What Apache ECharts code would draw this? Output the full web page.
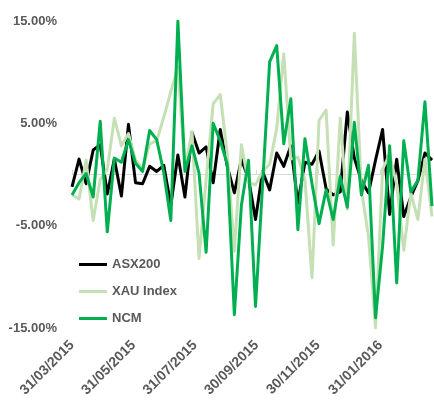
<!DOCTYPE html>
<html>
<head>
<meta charset="utf-8">
<script src="https://cdn.jsdelivr.net/npm/echarts@6/dist/echarts.min.js"></script>
<style>
  html, body { margin: 0; padding: 0; background: #ffffff; }
  #chart { width: 434px; height: 401px; }
</style>
</head>
<body>
<div id="chart"></div>
<script>
// Weekly observation dates
const weeks = [
  '2015-03-31', '2015-04-07', '2015-04-14', '2015-04-21', '2015-04-28',
  '2015-05-05', '2015-05-12', '2015-05-19', '2015-05-26',
  '2015-06-02', '2015-06-09', '2015-06-16', '2015-06-23', '2015-06-30',
  '2015-07-07', '2015-07-14', '2015-07-21', '2015-07-28',
  '2015-08-04', '2015-08-11', '2015-08-18', '2015-08-25',
  '2015-09-01', '2015-09-08', '2015-09-15', '2015-09-22', '2015-09-29',
  '2015-10-06', '2015-10-13', '2015-10-20', '2015-10-27',
  '2015-11-03', '2015-11-10', '2015-11-17', '2015-11-24',
  '2015-12-01', '2015-12-08', '2015-12-15', '2015-12-22', '2015-12-29',
  '2016-01-05', '2016-01-12', '2016-01-19', '2016-01-26',
  '2016-02-02', '2016-02-09', '2016-02-16', '2016-02-23',
  '2016-03-01', '2016-03-08', '2016-03-15', '2016-03-22'
];

// Weekly returns, in percent
const asx200 = [
  -1.2, 1.5, -0.9, 2.4, 2.9, -1.9, 1.5, -2.1, 4.9, -0.8,
  -0.9, 0.8, 0.3, 0.9, -3.0, 1.9, -2.2, 4.1, 2.1, 2.7,
  -0.8, 4.4, 0.8, -1.8, 1.5, -0.4, -4.4, 0.3, -1.5, 2.1,
  0.8, 2.8, -2.8, 1.2, 1.0, 2.3, -1.4, -2.0, -1.7, 6.1,
  1.6, -0.6, -1.8, 1.4, 4.4, -3.9, 1.5, -4.1, -2.2, -0.6,
  2.1, 1.4
];
const xauIndex = [
  -2.0, -2.4, 1.4, -4.5, -0.5, 0.5, 5.5, 2.8, 4.0, 1.4,
  0.5, 3.0, 3.3, 5.6, 8.1, 10.5, 0.5, 4.2, -8.2, -0.5,
  6.9, 7.8, 2.0, -7.5, 2.9, -0.8, -1.0, 0.3, 1.0, 4.5,
  11.8, 1.5, 1.7, -0.5, -10.1, 5.3, 6.3, -6.9, 5.5, -3.4,
  13.8, -1.5, -6.0, -15.0, 0.5, 2.0, -1.0, -7.4, -1.8, -4.4,
  1.5, -4.1
];
const ncm = [
  -2.0, -0.8, 0.1, -2.2, 5.2, -5.6, 1.6, 1.2, 3.4, 1.1,
  0.3, 4.3, 3.4, 0.2, -4.5, 15.0, 0.3, 2.8, 0.1, -7.6,
  5.0, 3.3, 1.0, -13.7, -3.0, 1.4, -12.9, -1.0, 11.0, 12.6,
  3.0, 7.4, -5.4, 3.5, -0.9, -4.8, -1.5, -4.4, -0.2, -3.2,
  5.1, -2.0, 0.9, -14.0, -7.0, 2.8, -10.6, 3.3, -1.7, -0.6,
  7.1, -3.1
];

// Axis tick labels
const xTickDates = ['2015-03-31', '2015-05-31', '2015-07-31', '2015-09-30', '2015-11-30', '2016-01-31'];
const yTickValues = [-15, -5, 5, 15];

const seriesNames = ['ASX200', 'XAU Index', 'NCM'];
const seriesColors = ['#000000', '#c5e0b4', '#00b050'];

function toTime(s) {
  const p = s.split('-').map(Number);
  return new Date(p[0], p[1] - 1, p[2]).getTime();
}
function fmtDate(t) {
  const d = new Date(t);
  const two = n => String(n).padStart(2, '0');
  return two(d.getDate()) + '/' + two(d.getMonth() + 1) + '/' + d.getFullYear();
}

const weekTimes = weeks.map(toTime);
const xTicks = xTickDates.map(toTime);
const xMin = weekTimes[0];
const xMax = weekTimes[weekTimes.length - 1];

const textColor = '#595959';
const fontFamily = '"Liberation Sans", Arial, sans-serif';

function buildSeries(name, values, color) {
  return {
    name: name,
    type: 'line',
    xAxisIndex: 0,
    yAxisIndex: 0,
    data: values.map((v, i) => [weekTimes[i], v]),
    showSymbol: false,
    symbol: 'none',
    lineStyle: { color: color, width: 3, join: 'round' },
    itemStyle: { color: color },
    emphasis: { disabled: true },
    animation: false
  };
}

const chart = echarts.init(document.getElementById('chart'), null, { renderer: 'canvas' });
chart.setOption({
  backgroundColor: '#ffffff',
  animation: false,
  grid: { left: 72, right: 2, top: 21, bottom: 73, containLabel: false },
  legend: {
    orient: 'vertical',
    left: 74,
    top: 253,
    itemWidth: 28,
    itemHeight: 3,
    itemGap: 14,
    icon: 'rect',
    selectedMode: false,
    data: seriesNames,
    textStyle: { color: textColor, fontWeight: 'bold', fontSize: 13, fontFamily: fontFamily }
  },
  xAxis: [
    {
      type: 'value',
      min: xMin,
      max: xMax,
      position: 'bottom',
      axisLine: { show: false, onZero: false },
      axisTick: { show: false },
      splitLine: { show: false },
      axisLabel: {
        customValues: xTicks,
        rotate: 45,
        margin: 15,
        color: textColor,
        fontWeight: 'bold',
        fontSize: 14,
        fontFamily: fontFamily,
        formatter: v => fmtDate(v)
      }
    },
    {
      type: 'value',
      min: xMin,
      max: xMax,
      position: 'top',
      axisLine: { show: true, onZero: true, lineStyle: { color: '#d9d9d9', width: 1 } },
      axisTick: { show: true, inside: false, length: 5, customValues: xTicks, lineStyle: { color: '#d9d9d9', width: 1 } },
      axisLabel: { show: false },
      splitLine: { show: false }
    }
  ],
  yAxis: {
    type: 'value',
    min: -15,
    max: 15,
    axisLine: { show: false },
    axisTick: { show: false },
    splitLine: { show: false },
    axisLabel: {
      customValues: yTickValues,
      margin: 15,
      color: textColor,
      fontWeight: 'bold',
      fontSize: 13,
      fontFamily: fontFamily,
      formatter: v => v.toFixed(2) + '%'
    }
  },
  series: [
    buildSeries(seriesNames[0], asx200, seriesColors[0]),
    buildSeries(seriesNames[1], xauIndex, seriesColors[1]),
    buildSeries(seriesNames[2], ncm, seriesColors[2])
  ]
});
</script>
</body>
</html>
